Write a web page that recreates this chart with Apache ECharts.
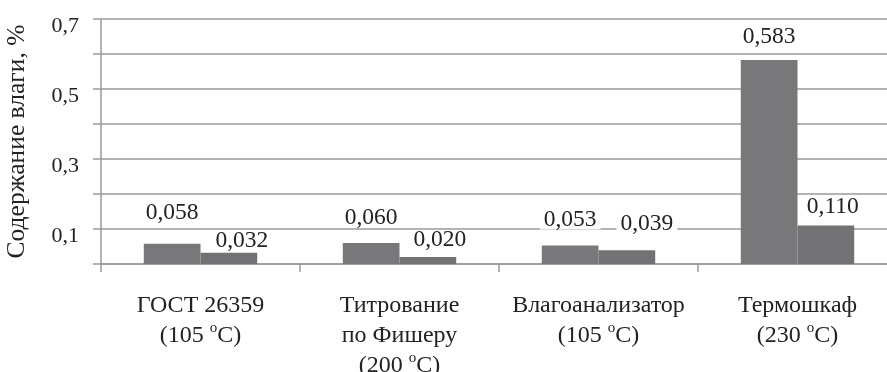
<!DOCTYPE html>
<html>
<head>
<meta charset="utf-8">
<script src="https://cdn.jsdelivr.net/npm/echarts@6/dist/echarts.min.js"></script>
<style>
  html, body { margin: 0; padding: 0; background: #fff; }
  #main { width: 887px; height: 372px; }
</style>
</head>
<body>
<div id="main"></div>
<script>
// категории (методы определения влаги); {s|o} — верхний индекс «o» в «oC»
var categories = [
  'ГОСТ 26359\n(105 {s|o}C)',
  'Титрование\nпо Фишеру\n(200 {s|o}C)',
  'Влагоанализатор\n(105 {s|o}C)',
  'Термошкаф\n(230 {s|o}C)'
]
var seriesA = [0.058, 0.060, 0.053, 0.583]
var seriesB = [0.032, 0.020, 0.039, 0.110]
var yLabels = [0.1, 0.3, 0.5, 0.7]

// сдвиги подписей значений [dx, dy] — как в оригинале
var shiftA = [[0, -20], [0, -14], [0, -15], [0, -12]]
var shiftB = [[13, -1], [12, -6], [20, -16], [7, -8]]

var font = 'Liberation Serif'

function comma (v, d) {
  return v.toFixed(d).replace('.', ',')
}

function makeData (vals, shifts) {
  return vals.map(function (v, i) {
    return { value: v, label: { offset: shifts[i] } }
  })
}

function barSeries (name, vals, shifts, color) {
  return {
    name: name,
    type: 'bar',
    barGap: '0%',
    barCategoryGap: '43%',
    itemStyle: { color: color },
    label: {
      show: true,
      position: 'top',
      distance: 1,
      fontFamily: font,
      fontSize: 23.5,
      lineHeight: 20,
      color: '#222',
      backgroundColor: '#fff',
      padding: [0, 4],
      formatter: function (p) { return comma(p.value, 3) }
    },
    data: makeData(vals, shifts)
  }
}

var chart = echarts.init(document.getElementById('main'))
chart.setOption({
  animation: false,
  grid: { left: 101, right: -10, top: 19, bottom: 108, outerBoundsMode: 'none' },
  xAxis: {
    type: 'category',
    data: categories,
    axisLine: { lineStyle: { color: '#9a9a9a', width: 1.5 } },
    axisTick: { show: true, length: 8, lineStyle: { color: '#9a9a9a', width: 1.5 } },
    axisLabel: {
      interval: 0,
      margin: 27,
      fontFamily: font,
      fontSize: 24,
      lineHeight: 30,
      color: '#222',
      rich: {
        s: { fontFamily: font, fontSize: 15, verticalAlign: 'top', padding: [0, 0, 10, 0], lineHeight: 30, color: '#222' }
      }
    }
  },
  yAxis: {
    type: 'value',
    min: 0,
    max: 0.7,
    interval: 0.1,
    name: 'Содержание влаги, %',
    nameLocation: 'middle',
    nameGap: 71,
    nameTextStyle: { fontFamily: font, fontSize: 25.5, color: '#222' },
    axisLine: { show: true, lineStyle: { color: '#9a9a9a', width: 1.5 } },
    axisTick: { show: true, length: 8, lineStyle: { color: '#9a9a9a', width: 1.5 } },
    splitLine: { lineStyle: { color: '#9a9a9a', width: 1.5 } },
    axisLabel: {
      margin: 22,
      fontFamily: font,
      fontSize: 22,
      color: '#222',
      verticalAlign: 'top',
      lineHeight: 14,
      formatter: function (v) {
        var r = Math.round(v * 10) / 10
        return yLabels.indexOf(r) >= 0 ? comma(r, 1) : ''
      }
    }
  },
  series: [
    barSeries('Серия 1', seriesA, shiftA, '#78787a'),
    barSeries('Серия 2', seriesB, shiftB, '#727275')
  ]
})
</script>
</body>
</html>
